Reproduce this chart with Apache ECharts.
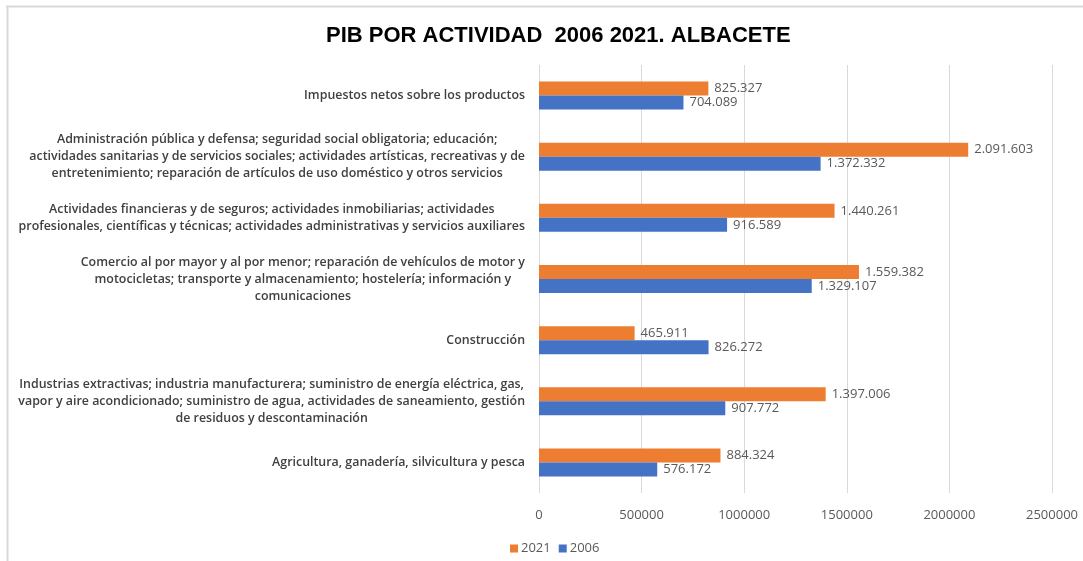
<!DOCTYPE html>
<html lang="es">
<head>
    <meta charset="UTF-8">
    <title>PIB por actividad 2006 2021. Albacete</title>
    <script type="text/javascript" src="https://cdn.jsdelivr.net/npm/echarts@6/dist/echarts.min.js"></script>
    <style>
        html, body { margin: 0; padding: 0; background: #fff; }
    </style>
</head>
<body>
    <div id="chart" style="width:1083px;height:561px;"></div>
<script type="text/javascript">
    // categorias, de abajo hacia arriba (como en Excel)
    var categories = [
        'Agricultura, ganadería, silvicultura y pesca',
        'Industrias extractivas; industria manufacturera; suministro de energía eléctrica, gas,\nvapor y aire acondicionado; suministro de agua, actividades de saneamiento, gestión\nde residuos y descontaminación',
        'Construcción',
        'Comercio al por mayor y al por menor; reparación de vehículos de motor y\nmotocicletas; transporte y almacenamiento; hostelería; información y\ncomunicaciones',
        'Actividades financieras y de seguros; actividades inmobiliarias; actividades\nprofesionales, científicas y técnicas; actividades administrativas y servicios auxiliares',
        'Administración pública y defensa; seguridad social obligatoria; educación;\nactividades sanitarias y de servicios sociales; actividades artísticas, recreativas y de\nentretenimiento; reparación de artículos de uso doméstico y otros servicios',
        'Impuestos netos sobre los productos'
    ];
    var values2021 = [884324, 1397006, 465911, 1559382, 1440261, 2091603, 825327];
    var values2006 = [576172, 907772, 826272, 1329107, 916589, 1372332, 704089];
    var seriesNames = ['2021', '2006'];
    var xTicks = { min: 0, max: 2500000, interval: 500000 };

    var myChart = echarts.init(document.getElementById('chart'));

    function miles(v) {
        return String(v).replace(/\B(?=(\d{3})+(?!\d))/g, '.');
    }

    var labelFont = '"Open Sans", "Noto Sans", sans-serif';

    var dataLabel = {
        show: true,
        position: 'right',
        distance: 6,
        fontFamily: labelFont,
        fontSize: 13,
        color: '#595959',
        formatter: function (p) { return miles(p.value); }
    };

    var options = {
        backgroundColor: '#fff',
        animation: false,
        title: {
            text: 'PIB POR ACTIVIDAD  2006 2021. ALBACETE',
            left: 321,
            top: 20,
            textStyle: {
                fontFamily: '"Liberation Sans", Arial, sans-serif',
                fontWeight: 'bold',
                fontSize: 22,
                color: '#000'
            }
        },
        legend: {
            data: seriesNames,
            left: 505,
            top: 537,
            itemWidth: 8,
            itemHeight: 8,
            itemGap: 8,
            icon: 'rect',
            selectedMode: false,
            textStyle: { fontFamily: labelFont, fontSize: 13, color: '#595959', padding: [0, 0, 0, -2] }
        },
        grid: {
            left: 539,
            right: 31,
            top: 65,
            bottom: 68,
            containLabel: false
        },
        xAxis: {
            type: 'value',
            min: xTicks.min,
            max: xTicks.max,
            interval: xTicks.interval,
            axisLine: { show: false },
            axisTick: { show: false },
            splitLine: { lineStyle: { color: '#d9d9d9', width: 1 } },
            axisLabel: {
                margin: 16,
                fontFamily: labelFont,
                fontSize: 13,
                color: '#595959',
                formatter: function (v) { return String(v); }
            }
        },
        yAxis: {
            type: 'category',
            data: categories,
            axisLine: { show: false },
            axisTick: { show: false },
            axisLabel: {
                margin: 14,
                align: 'right',
                lineHeight: 17,
                formatter: function (val) {
                    return val.split('\n').map(function (l) { return '{c|' + l + '}'; }).join('\n');
                },
                rich: {
                    c: {
                        align: 'center',
                        fontFamily: labelFont,
                        fontWeight: 600,
                        fontSize: 12.4,
                        lineHeight: 17,
                        color: '#404040'
                    }
                }
            }
        },
        series: [
            {
                name: seriesNames[0],
                type: 'bar',
                data: values2021,
                barWidth: 14,
                barGap: '0%',
                itemStyle: { color: '#ED7D31' },
                label: dataLabel
            },
            {
                name: seriesNames[1],
                type: 'bar',
                data: values2006,
                barWidth: 14,
                barGap: '0%',
                itemStyle: { color: '#4472C4' },
                label: dataLabel
            }
        ],
        graphic: [
            { type: 'line', shape: { x1: 6, y1: 6.5, x2: 1083, y2: 6.5 }, style: { stroke: '#d9d9d9', lineWidth: 2 } },
            { type: 'line', shape: { x1: 7.5, y1: 6, x2: 7.5, y2: 561 }, style: { stroke: '#d9d9d9', lineWidth: 2 } }
        ]
    };
    myChart.setOption(options);
</script>
</body>
</html>
